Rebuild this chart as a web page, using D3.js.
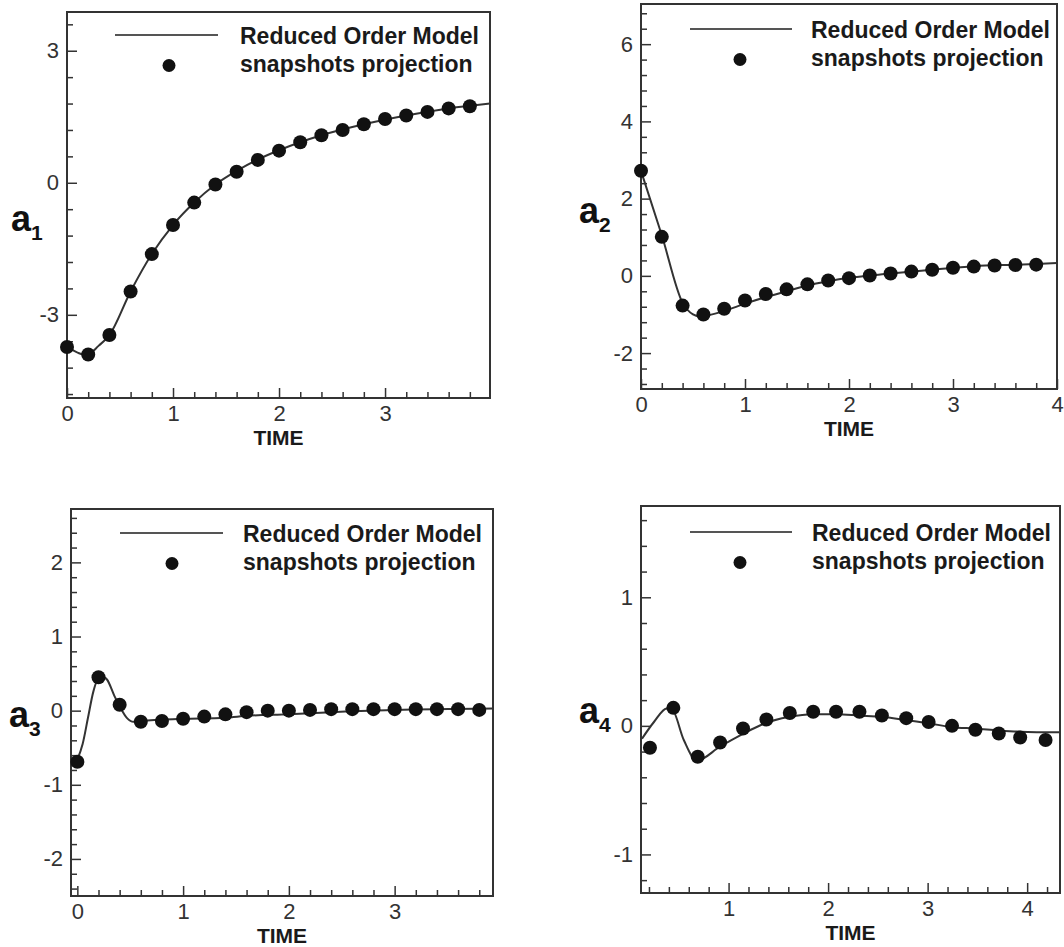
<!DOCTYPE html>
<html>
<head>
<meta charset="utf-8">
<script src="https://cdn.jsdelivr.net/npm/d3@7"></script>
<style>
	body { margin: 0; background: #fff; }
	text { font-family: "Liberation Sans", Arial, sans-serif; }
</style>
</head>
<body>
<div id="chart"></div>
<script>
'use strict';

// snapshot times
var snapTime = [0, 0.2, 0.4, 0.6, 0.8, 1.0, 1.2, 1.4, 1.6, 1.8, 2.0, 2.2, 2.4, 2.6, 2.8, 3.0, 3.2, 3.4, 3.6, 3.8];
var snapTime4 = [0.21, 0.445, 0.69, 0.915, 1.145, 1.38, 1.615, 1.85, 2.08, 2.315, 2.54, 2.785, 3.01, 3.245, 3.48, 3.715, 3.93, 4.185];

// snapshots projection values
var a1Snap = [-3.73, -3.90, -3.46, -2.47, -1.62, -0.96, -0.45, -0.04, 0.25, 0.52, 0.73, 0.92, 1.08, 1.20, 1.33, 1.45, 1.53, 1.61, 1.69, 1.74];
var a2Snap = [2.72, 1.01, -0.77, -1.00, -0.85, -0.64, -0.47, -0.35, -0.22, -0.12, -0.06, 0.01, 0.06, 0.11, 0.16, 0.21, 0.24, 0.27, 0.28, 0.29];
var a3Snap = [-0.69, 0.45, 0.08, -0.15, -0.14, -0.11, -0.08, -0.05, -0.02, 0.00, 0.00, 0.01, 0.02, 0.02, 0.02, 0.02, 0.02, 0.02, 0.02, 0.01];
var a4Snap = [-0.17, 0.14, -0.24, -0.13, -0.02, 0.05, 0.10, 0.11, 0.11, 0.11, 0.08, 0.06, 0.03, 0.00, -0.03, -0.06, -0.09, -0.11];

// reduced order model curves
var a1RomTime = [0, 0.1, 0.18, 0.3, 0.4, 0.6, 0.8, 1.0, 1.2, 1.4, 1.6, 1.8, 2.0, 2.4, 2.8, 3.2, 3.6, 3.99];
var a1Rom = [-3.73, -3.86, -3.92, -3.70, -3.46, -2.47, -1.62, -0.96, -0.45, -0.04, 0.27, 0.53, 0.74, 1.08, 1.33, 1.53, 1.69, 1.80];
var a2RomTime = [0, 0.2, 0.4, 0.5, 0.56, 0.65, 0.8, 1.0, 1.2, 1.4, 1.6, 1.8, 2.0, 2.4, 2.8, 3.2, 3.6, 4.0];
var a2Rom = [2.72, 1.05, -0.70, -1.00, -1.05, -1.02, -0.91, -0.72, -0.55, -0.40, -0.25, -0.14, -0.05, 0.06, 0.16, 0.25, 0.29, 0.33];
var a3RomTime = [0, 0.05, 0.1, 0.15, 0.22, 0.28, 0.35, 0.4, 0.47, 0.53, 0.6, 0.8, 1.0, 1.4, 1.6, 2.0, 2.4, 3.0, 3.93];
var a3Rom = [-0.66, -0.45, -0.10, 0.25, 0.47, 0.42, 0.20, 0.06, -0.10, -0.15, -0.14, -0.12, -0.11, -0.095, -0.07, -0.05, -0.02, 0.01, 0.03];
var a4RomTime = [0.13, 0.25, 0.38, 0.43, 0.55, 0.68, 0.916, 1.15, 1.32, 1.613, 1.848, 2.08, 2.317, 2.54, 2.78, 3.01, 3.245, 3.48, 3.71, 3.93, 4.33];
var a4Rom = [-0.10, 0.03, 0.135, 0.13, -0.11, -0.27, -0.16, -0.06, 0.005, 0.07, 0.09, 0.09, 0.08, 0.07, 0.045, 0.02, -0.01, -0.02, -0.035, -0.045, -0.05];

// tick labels
var xTicks1 = [0, 1, 2, 3], yTicks1 = [-3, 0, 3];
var xTicks2 = [0, 1, 2, 3, 4], yTicks2 = [-2, 0, 2, 4, 6];
var xTicks3 = [0, 1, 2, 3], yTicks3 = [-2, -1, 0, 1, 2];
var xTicks4 = [1, 2, 3, 4], yTicks4 = [-1, 0, 1];

var legendLabels = ['Reduced Order Model', 'snapshots projection'];
var xTitle = 'TIME';

var WIDTH = 1064, HEIGHT = 947;

var panels = [
	{ sub: '1', snapT: snapTime, snap: a1Snap, romT: a1RomTime, rom: a1Rom,
		xDom: [0, 3.99], yDom: [-4.89, 3.88], xTicks: xTicks1, yTicks: yTicks1, xMinor: 0.2, yMinor: 0.6,
		box: [67, 12, 490, 398], leg: [115, 218, 35, 169, 240], lab: [11, 231] },
	{ sub: '2', snapT: snapTime, snap: a2Snap, romT: a2RomTime, rom: a2Rom,
		xDom: [0, 4], yDom: [-2.93, 7.04], xTicks: xTicks2, yTicks: yTicks2, xMinor: 0.2, yMinor: 0.4,
		box: [641, 4, 1057, 389], leg: [690, 792, 29, 740, 811], lab: [579, 223] },
	{ sub: '3', snapT: snapTime, snap: a3Snap, romT: a3RomTime, rom: a3Rom,
		xDom: [-0.06, 3.93], yDom: [-2.5, 2.72], xTicks: xTicks3, yTicks: yTicks3, xMinor: 0.2, yMinor: 0.2,
		box: [71, 509, 493, 896], leg: [120, 223, 533, 172, 243], lab: [9, 727] },
	{ sub: '4', snapT: snapTime4, snap: a4Snap, romT: a4RomTime, rom: a4Rom,
		xDom: [0.12, 4.33], yDom: [-1.3, 1.71], xTicks: xTicks4, yTicks: yTicks4, xMinor: 0.2, yMinor: 0.2,
		box: [641, 506, 1060, 893], leg: [690, 792, 532, 740, 812], lab: [579, 723] }
];

var svg = d3.select('#chart').append('svg')
	.attr('width', WIDTH)
	.attr('height', HEIGHT);

panels.forEach(drawPanel);

function minorValues(dom, step, majors) {
	var lo = Math.ceil(dom[0] / step - 1e-6), hi = Math.floor(dom[1] / step + 1e-6);
	return d3.range(lo, hi + 1).map(function(i) { return +(i * step).toFixed(3); })
		.filter(function(v) { return majors.indexOf(v) < 0; });
}

function drawPanel(p) {
	var l = p.box[0], t = p.box[1], r = p.box[2], b = p.box[3];
	var x = d3.scaleLinear().domain(p.xDom).range([l, r]);
	var y = d3.scaleLinear().domain(p.yDom).range([b, t]);
	var g = svg.append('g');

	// minor ticks
	g.append('g')
		.attr('transform', 'translate(0,' + b + ')')
		.call(d3.axisBottom(x).tickValues(minorValues(p.xDom, p.xMinor, p.xTicks)).tickSize(-6).tickFormat(''))
		.call(styleAxis);
	g.append('g')
		.attr('transform', 'translate(' + l + ',0)')
		.call(d3.axisLeft(y).tickValues(minorValues(p.yDom, p.yMinor, p.yTicks)).tickSize(-6).tickFormat(''))
		.call(styleAxis);

	// major ticks and labels (plain hyphen for negatives, as in the original)
	g.append('g')
		.attr('transform', 'translate(0,' + b + ')')
		.call(d3.axisBottom(x).tickValues(p.xTicks).tickSize(-10).tickPadding(7).tickFormat(String))
		.call(styleAxis);
	g.append('g')
		.attr('transform', 'translate(' + l + ',0)')
		.call(d3.axisLeft(y).tickValues(p.yTicks).tickSize(-10).tickPadding(8).tickFormat(String))
		.call(styleAxis);

	// frame
	g.append('rect')
		.attr('x', l).attr('y', t)
		.attr('width', r - l).attr('height', b - t)
		.attr('fill', 'none')
		.attr('stroke', '#333')
		.attr('stroke-width', 2);

	// ROM curve
	var pts = p.romT.map(function(tt, i) { return [tt, p.rom[i]]; });
	var line = d3.line()
		.x(function(d) { return x(d[0]); })
		.y(function(d) { return y(d[1]); })
		.curve(d3.curveMonotoneX);
	g.append('path')
		.datum(pts)
		.attr('d', line)
		.attr('fill', 'none')
		.attr('stroke', '#333')
		.attr('stroke-width', 2);

	// snapshots
	g.selectAll('circle.snap')
		.data(p.snapT.map(function(tt, i) { return [tt, p.snap[i]]; }))
		.enter().append('circle')
			.attr('class', 'snap')
			.attr('cx', function(d) { return x(d[0]); })
			.attr('cy', function(d) { return y(d[1]); })
			.attr('r', 7)
			.attr('fill', '#111');

	// legend
	var lg = p.leg;
	g.append('line')
		.attr('x1', lg[0]).attr('x2', lg[1])
		.attr('y1', lg[2]).attr('y2', lg[2])
		.attr('stroke', '#555')
		.attr('stroke-width', 2);
	g.append('circle')
		.attr('cx', lg[3]).attr('cy', lg[2] + 30.5)
		.attr('r', 6.5)
		.attr('fill', '#111');
	legendLabels.forEach(function(txt, i) {
		g.append('text')
			.attr('x', lg[4])
			.attr('y', lg[2] + 8.5 + i * 28.5)
			.attr('font-size', '23px')
			.attr('font-weight', 'bold')
			.attr('fill', '#1a1a1a')
			.text(txt);
	});

	// axis titles
	g.append('text')
		.attr('x', (l + r) / 2)
		.attr('y', b + 47)
		.attr('text-anchor', 'middle')
		.attr('font-size', '21px')
		.attr('font-weight', 'bold')
		.attr('fill', '#1a1a1a')
		.text(xTitle);
	var yl = g.append('text')
		.attr('x', p.lab[0])
		.attr('y', p.lab[1])
		.attr('font-weight', 'bold')
		.attr('fill', '#111');
	yl.append('tspan').attr('font-size', '36px').text('a');
	yl.append('tspan').attr('font-size', '21px').attr('dy', 9).text(p.sub);
}

function styleAxis(sel) {
	sel.select('.domain').remove();
	sel.selectAll('.tick line').attr('stroke', '#333').attr('stroke-width', 1.5);
	sel.selectAll('.tick text')
		.attr('fill', '#333')
		.style('font-size', '22px')
		.style('font-family', '"Liberation Sans", Arial, sans-serif');
}
</script>
</body>
</html>
